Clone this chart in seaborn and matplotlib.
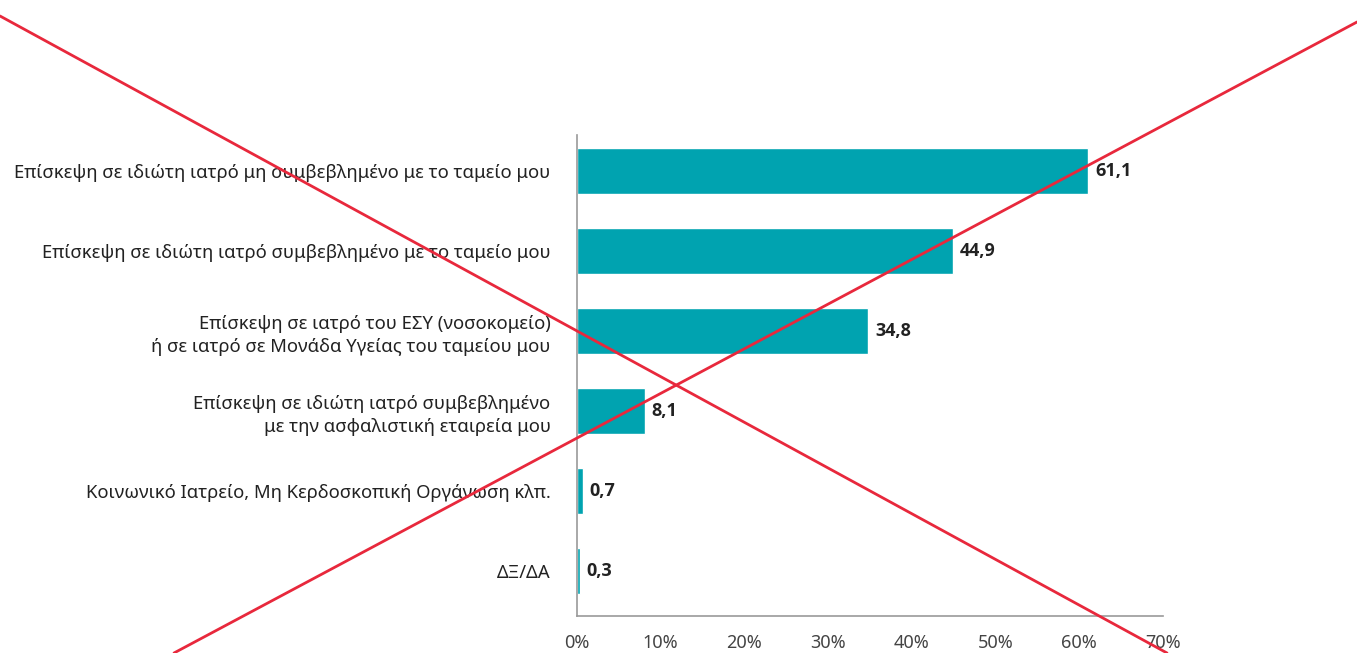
import matplotlib
matplotlib.use("Agg")
import matplotlib.pyplot as plt
import seaborn as sns
import pandas as pd
from matplotlib.lines import Line2D

categories = [
    "Επίσκεψη σε ιδιώτη ιατρό μη συμβεβλημένο με το ταμείο μου",
    "Επίσκεψη σε ιδιώτη ιατρό συμβεβλημένο με το ταμείο μου",
    "Επίσκεψη σε ιατρό του ΕΣΥ (νοσοκομείο)\nή σε ιατρό σε Μονάδα Υγείας του ταμείου μου",
    "Επίσκεψη σε ιδιώτη ιατρό συμβεβλημένο\nμε την ασφαλιστική εταιρεία μου",
    "Κοινωνικό Ιατρείο, Μη Κερδοσκοπική Οργάνωση κλπ.",
    "ΔΞ/ΔΑ",
]
values = [61.1, 44.9, 34.8, 8.1, 0.7, 0.3]
value_labels = ["61,1", "44,9", "34,8", "8,1", "0,7", "0,3"]
xticks = [0, 10, 20, 30, 40, 50, 60, 70]
xtick_labels = ["0%", "10%", "20%", "30%", "40%", "50%", "60%", "70%"]

sns.set_theme(style="white")
plt.rcParams["font.family"] = ["Noto Sans", "DejaVu Sans"]

df = pd.DataFrame({"cat": categories, "val": values})

fig = plt.figure(figsize=(13.57, 6.53), dpi=100)
ax = fig.add_axes([577 / 1357, 1 - 616 / 653, (1163 - 577) / 1357, (616 - 135) / 653])

sns.barplot(data=df, x="val", y="cat", color="#00A3B0", saturation=1, width=0.575, ax=ax)

ax.set_xlim(0, 70)
ax.set_ylim(5.56, -0.45)
ax.set_xlabel("")
ax.set_ylabel("")
ax.set_xticks(xticks)
ax.set_xticklabels(xtick_labels, fontsize=13, color="#444444")
ax.tick_params(axis="x", direction="in", length=6, width=1, color="#999999", pad=13)
ax.tick_params(axis="y", length=0, pad=19, labelsize=13.3, labelcolor="#222222")
for lbl in ax.get_yticklabels():
    lbl.set_horizontalalignment("right")
    lbl.set_multialignment("right")
    lbl.set_linespacing(1.35)

for s in ["top", "right"]:
    ax.spines[s].set_visible(False)
for s in ["left", "bottom"]:
    ax.spines[s].set_color("#999999")
    ax.spines[s].set_linewidth(1.2)

for i, (v, t) in enumerate(zip(values, value_labels)):
    ax.text(v + 0.8, i, t, va="center", ha="left", fontsize=13, fontweight="bold",
            color="#222222", family=["Open Sans", "DejaVu Sans"])

# red cross overlay
fig.add_artist(Line2D([0, 1167 / 1357], [1 - 16 / 653, 0], transform=fig.transFigure, color="#E8283C", lw=2))
fig.add_artist(Line2D([1, 174 / 1357], [1 - 22 / 653, 0], transform=fig.transFigure, color="#E8283C", lw=2))

fig.savefig("out.png", dpi=100)
